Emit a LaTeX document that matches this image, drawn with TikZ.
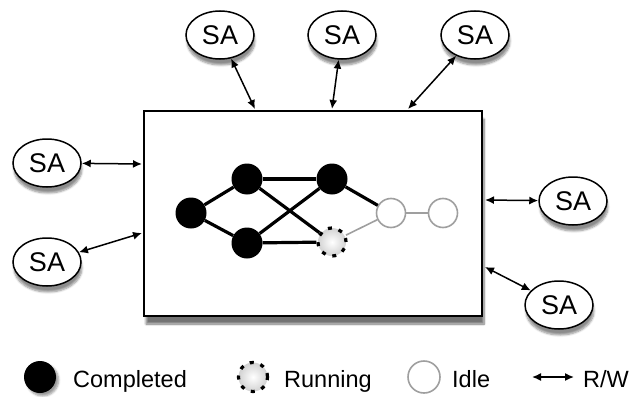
\documentclass[tikz,border=0pt]{standalone}
\usepackage{fontspec}
\setmainfont{Liberation Sans}
\usetikzlibrary{shapes.geometric,shadows.blur,arrows.meta}
\begin{document}
\begin{tikzpicture}[x=1pt,y=-1pt,
		sa/.style={ellipse, draw, line width=1.5pt, fill=white, minimum width=68pt, minimum height=48pt, inner sep=0pt, font=\fontsize{27}{27}\selectfont, blur shadow={shadow xshift=1pt, shadow yshift=-6pt, shadow blur steps=6, shadow opacity=45}},
		done/.style={circle, fill=black, minimum size=31pt, inner sep=0pt},
		running/.style={circle, draw, dash pattern=on 4pt off 7pt, line width=3.2pt, inner color=white, outer color=gray!35, minimum size=28pt, inner sep=0pt},
		idle/.style={circle, draw=gray!75, line width=1.6pt, fill=white, minimum size=29pt, inner sep=0pt},
		rw/.style={{Latex[length=9pt,width=8pt]}-{Latex[length=9pt,width=8pt]}, line width=1.5pt},
		lbl/.style={anchor=base west, inner sep=0pt, font=\fontsize{23.5}{23.5}\selectfont}]
	\useasboundingbox (0,0) rectangle (631,396);
	% the board
	\node[draw, line width=2pt, fill=white, minimum width=338pt, minimum height=205pt, inner sep=0pt, blur shadow={shadow xshift=2pt, shadow yshift=-8pt, shadow blur steps=8, shadow opacity=55}] (board) at (313,213.5) {};
	% tasks
	\node[done] (t1) at (191,213) {};
	\node[done] (t2) at (247,179) {};
	\node[done] (t3) at (247,243) {};
	\node[done] (t4) at (332,179) {};
	\node[running] (t5) at (332,242) {};
	\node[idle] (t6) at (391,213) {};
	\node[idle] (t7) at (443,213) {};
	\draw[line width=3.2pt] (t1) -- (t2);
	\draw[line width=3.2pt] (t1) -- (t3);
	\draw[line width=3.2pt] (t2) -- (t4);
	\draw[line width=3.2pt] (t2) -- (t5);
	\draw[line width=3.2pt] (t3) -- (t4);
	\draw[line width=3.2pt] (t3) -- (t5);
	\draw[line width=3.2pt] (t4) -- (t6);
	\draw[gray!75, line width=1.6pt] (t5) -- (t6);
	\draw[gray!75, line width=1.6pt] (t6) -- (t7);
	% storage agents
	\node[sa] (sa1) at (220,35) {SA};
	\node[sa] (sa2) at (342,35) {SA};
	\node[sa] (sa3) at (475,35) {SA};
	\node[sa] (sa4) at (47,163) {SA};
	\node[sa] (sa5) at (47,262) {SA};
	\node[sa] (sa6) at (573,201) {SA};
	\node[sa] (sa7) at (559,305) {SA};
	\coordinate (p1) at (255,109);
	\coordinate (p2) at (332,109);
	\coordinate (p3) at (408,109);
	\coordinate (p4) at (142,164);
	\coordinate (p5) at (142,233);
	\coordinate (p6) at (485,200);
	\coordinate (p7) at (485,267);
	\draw[rw] (sa1) -- (p1);
	\draw[rw] (sa2) -- (p2);
	\draw[rw] (sa3) -- (p3);
	\draw[rw] (sa4) -- (p4);
	\draw[rw] (sa5) -- (p5);
	\draw[rw] (sa6) -- (p6);
	\draw[rw] (sa7) -- (p7);
	% legend
	\node[done, minimum size=32pt, blur shadow={shadow yshift=-3pt, shadow blur steps=5}] (lgdone) at (40,377) {};
	\node[lbl] (lgdonetxt) at (73,387) {Completed};
	\node[running, minimum size=29pt] (lgrun) at (253,377) {};
	\node[lbl] (lgruntxt) at (284,387) {Running};
	\node[idle, minimum size=32pt] (lgidle) at (424,377) {};
	\node[lbl] (lgidletxt) at (452,387) {Idle};
	\coordinate (rwa) at (532,377);
	\coordinate (rwb) at (574,377);
	\draw[rw] (rwa) -- (rwb);
	\node[lbl] (lgrwtxt) at (583,387) {R/W};
\end{tikzpicture}
\end{document}
